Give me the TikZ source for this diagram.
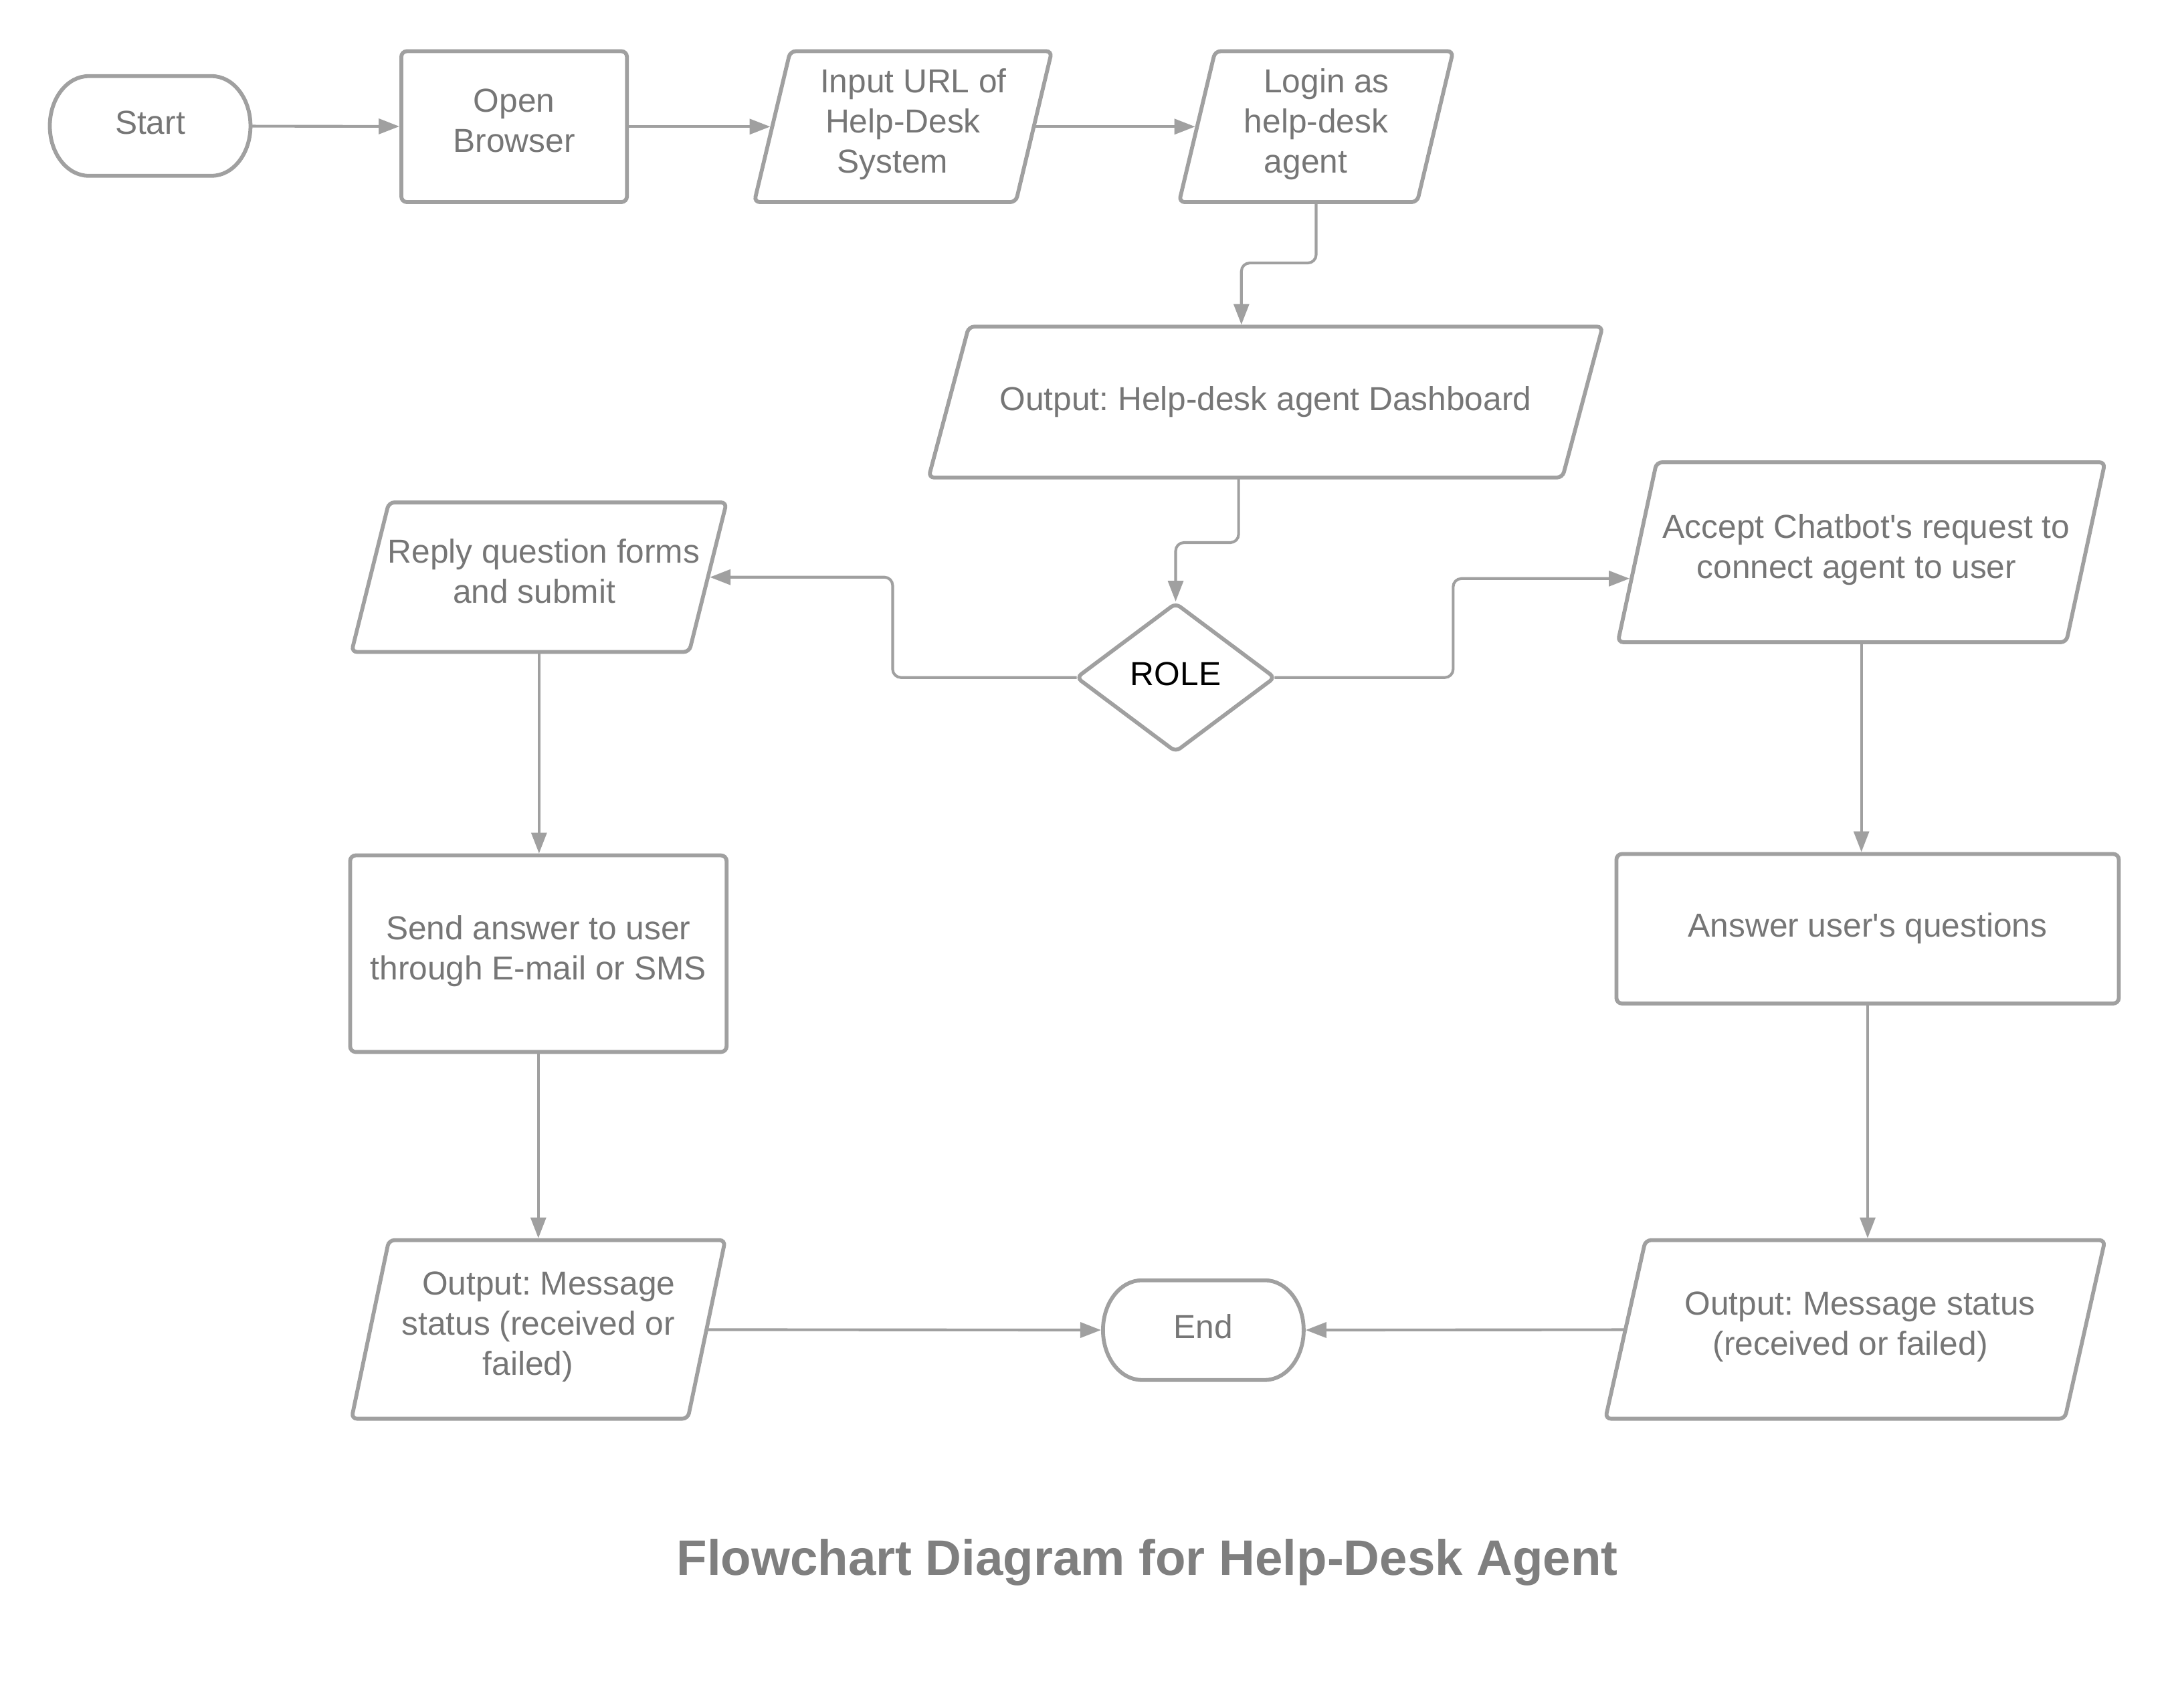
\documentclass[tikz,border=0pt]{standalone}
\usepackage{fontspec}
\setmainfont{Liberation Sans}
\frenchspacing
\usetikzlibrary{shapes.geometric,arrows.meta,calc}
\definecolor{lc}{RGB}{160,160,160}
\definecolor{tc}{RGB}{118,118,118}
\definecolor{ttl}{RGB}{127,127,127}
\newcommand\paraoutline[2]{%
  \draw[shapeline, rounded corners=4pt] ([xshift=#2]#1.north west) -- ([xshift=#2]#1.north east)
    -- ([xshift=-#2]#1.south east) -- ([xshift=-#2]#1.south west) -- cycle;}
\newcommand\termoutline[1]{%
  \draw[shapeline] ([xshift=28pt]#1.north west) -- ([xshift=-28pt]#1.north east)
    arc[start angle=90,end angle=-90,x radius=28pt,y radius=36pt]
    -- ([xshift=28pt]#1.south west)
    arc[start angle=270,end angle=90,x radius=28pt,y radius=36pt] -- cycle;}
\begin{document}
\begin{tikzpicture}[x=1pt,y=-1pt,
  txt/.style={text=tc, font=\fontsize{24}{29}\selectfont, align=center, inner sep=0pt, outer sep=0pt,
    execute at begin node=\strut, execute at end node=\strut},
  shapeline/.style={draw=lc, line width=2.8pt},
  proc/.style={txt, shapeline, rectangle, rounded corners=4pt},
  para/.style={txt, rectangle},
  term/.style={txt, rectangle, minimum width=145pt, minimum height=72pt},
  dec/.style={txt, shapeline, diamond, rounded corners=4pt, text=black},
  arr/.style={draw=lc, line width=2pt, -{Triangle[length=15pt,width=11pt]}, rounded corners=6pt, shorten >=1.4pt},
]
\fill[white] (0,0) rectangle (1568,1234);
\useasboundingbox (0,0) rectangle (1568,1234);

% terminators
\node[term] (start) at (108.5,91) {Start};
\termoutline{start}
\node[term] (endn) at (869.5,961) {End};
\termoutline{endn}

% process boxes
\node[proc, minimum width=163pt, minimum height=109pt] (ob) at (371.5,91.5) {Open\\Browser};
\node[proc, minimum width=272pt, minimum height=142pt] (send) at (389,689) {Send answer to user\\through E-mail or SMS};
\node[proc, minimum width=363pt, minimum height=108pt] (answer) at (1349.5,671) {Answer user\textquotesingle s questions};

% input/output (parallelograms: body node + slanted outline)
\node[para, minimum width=189pt, minimum height=109pt] (url) at (652.5,91.5) {\hspace*{15pt}Input URL of\\Help-Desk\\System\hspace*{15pt}};
\paraoutline{url}{13pt}
\node[para, minimum width=172pt, minimum height=109pt] (login) at (951,91.5) {\hspace*{15pt}Login as\\help-desk\\agent\hspace*{15pt}};
\paraoutline{login}{13pt}
\node[para, minimum width=458pt, minimum height=109pt] (dash) at (914.5,290.5) {Output: Help-desk agent Dashboard};
\paraoutline{dash}{14.5pt}
\node[para, minimum width=244pt, minimum height=108pt] (reply) at (389.5,417) {\hspace*{7pt}Reply question forms\\and submit\hspace*{7pt}};
\paraoutline{reply}{13.5pt}
\node[para, minimum width=324pt, minimum height=130pt] (accept) at (1345,399) {\hspace*{7pt}Accept Chatbot\textquotesingle s request to\\connect agent to user\hspace*{7pt}};
\paraoutline{accept}{14pt}
\node[para, minimum width=243pt, minimum height=129pt] (outl) at (389,960.5) {\hspace*{15pt}Output: Message\\status (received or\\failed)\hspace*{15pt}};
\paraoutline{outl}{13.5pt}
\node[para, minimum width=332pt, minimum height=129pt] (outr) at (1340.5,960.5) {\hspace*{7pt}Output: Message status\\(received or failed)\hspace*{7pt}};
\paraoutline{outr}{14.5pt}

% decision
\node[dec, minimum width=143pt, minimum height=107pt] (role) at (849.5,489.5) {ROLE};

% title
\node[font=\fontsize{36}{43}\selectfont\bfseries, text=ttl, anchor=base, inner sep=0pt] (title) at (829,1138) {Flowchart Diagram for Help-Desk Agent};

% connectors
\draw[arr] (start) -- (ob);
\draw[arr] (ob) -- (url);
\draw[arr] (url) -- (login);
\coordinate (b1) at (897,190);
\draw[arr] (login.south) |- (b1) -- (b1 |- dash.north);
\coordinate (b2) at (895,392);
\draw[arr] (dash.south -| b2) -- (b2) -| (role.north);
\coordinate (b4) at (645,417);
\draw[arr] (role.west) -| (b4) -- (b4 -| reply.east);
\coordinate (b5) at (1050,418);
\coordinate (acbl) at ([xshift=-14pt]accept.south west);
\coordinate (actl) at ([xshift=14pt]accept.north west);
\coordinate (a5) at ($(acbl)!0.354!(actl)$);
\draw[arr] (role.east) -| (b5) -- (b5 -| a5);
\draw[arr] (reply.south) -- (reply.south |- send.north);
\draw[arr] (send.south) -- (send.south |- outl.north);
\draw[arr] (accept.south) -- (accept.south |- answer.north);
\draw[arr] (answer.south) -- (answer.south |- outr.north);
\draw[arr] (outl) -- (endn);
\draw[arr] (outr) -- (endn);
\end{tikzpicture}
\end{document}
